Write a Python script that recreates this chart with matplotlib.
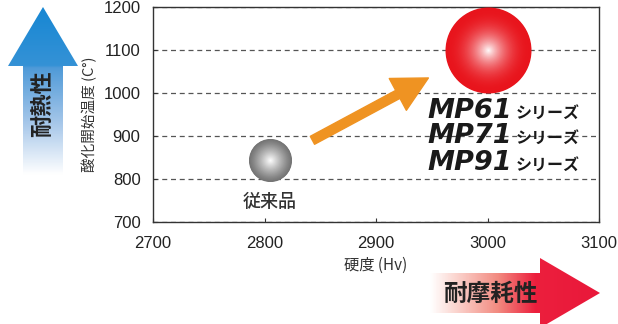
import numpy as np
import matplotlib
matplotlib.use("Agg")
import matplotlib.pyplot as plt
from matplotlib.colors import LinearSegmentedColormap, to_rgb
from matplotlib.patches import Polygon

plt.rcParams['font.family'] = ['Noto Sans CJK JP', 'DejaVu Sans']

# chart data
hardness = [2805, 3000]            # Hv
oxidation_temp = [845, 1100]       # deg C
sphere_edge = ['#747474', '#e8141c']
sphere_radius_px = [21.5, 43]
sphere_power = [1.2, 2.2]
old_label = '従来品'
series = ['MP61', 'MP71', 'MP91']
series_suffix = 'シリーズ'
series_y = [942, 884, 822]         # baselines of the series labels
arrow_start = (2843, 890)
arrow_end = (2947, 1035)
xticks = [2700, 2800, 2900, 3000, 3100]
yticks = [700, 800, 900, 1000, 1100, 1200]

fig = plt.figure(figsize=(6.18, 3.24), dpi=100)
ax = fig.add_axes([153/618, 1-222/324, 446/618, 215/324])
ax.set_xlim(2700, 3100)
ax.set_ylim(700, 1200)
ax.set_xticks(xticks)
ax.set_yticks(yticks)
ax.tick_params(direction='in', length=3, width=0.8, color='#333333',
               labelsize=12, labelcolor='#222222')
ax.tick_params(axis='x', pad=10)
ax.tick_params(axis='y', pad=9)
for lab in ax.get_xticklabels() + ax.get_yticklabels():
    lab.set_family(['Liberation Sans Narrow', 'Liberation Sans'])
for sp in ax.spines.values():
    sp.set_color('#333333')
    sp.set_linewidth(1)
ax.grid(axis='y', linestyle=(0, (4, 3)), color='#555555', linewidth=0.9)
ax.set_axisbelow(True)

ax.set_ylabel('酸化開始温度 (C°)', fontsize=10.5, color='#333333')
ax.yaxis.set_label_coords(-0.125, 0.5)
ax.set_xlabel('硬度 (Hv)', fontsize=11, color='#333333', va='top')
ax.xaxis.set_label_coords(0.5, -0.16)

# spheres: concentric discs from edge colour to white
n = 60
for x, y, c, r, p in zip(hardness, oxidation_temp, sphere_edge, sphere_radius_px, sphere_power):
    edge = np.array(to_rgb(c))
    for k in range(n):
        f = k / n
        rad = r * (1 - f) * 0.72
        w = f ** p
        col = edge * (1 - w) + np.ones(3) * w
        ax.scatter([x], [y], s=(2 * rad) ** 2, color=col, linewidths=0, zorder=3)

ax.text(hardness[0], 746, old_label, ha='center', va='center',
        fontsize=13, fontweight='medium', color='#333333', zorder=4)

ax.annotate('', xy=arrow_end, xytext=arrow_start,
            arrowprops=dict(arrowstyle='simple,head_length=2.5,head_width=2.6,tail_width=0.65',
                            color='#ef9322', shrinkA=0, shrinkB=0), zorder=4)

for name, yb in zip(series, series_y):
    ax.text(2946, yb, name, ha='left', va='baseline', fontsize=19.5,
            fontweight='heavy', fontstyle='italic', family='DejaVu Sans',
            color='#1a1a1a', zorder=4)
    ax.text(3025, yb, series_suffix, ha='left', va='baseline', fontsize=11.5,
            fontweight='bold', color='#1a1a1a', zorder=4)

# overlay in pixel coordinates for the decorative arrows
ov = fig.add_axes([0, 0, 1, 1], zorder=5)
ov.set_xlim(0, 618)
ov.set_ylim(324, 0)
ov.axis('off')
ov.patch.set_visible(False)

blue = LinearSegmentedColormap.from_list('blue', [
    (0.0, '#1787d3'), (0.35, '#3592d6'), (0.36, '#4f9ad8'),
    (0.7, '#a8c8ea'), (1.0, '#ffffff')])
grad = blue(np.linspace(0, 1, 200))[:, None, :]
up = Polygon([(43, 7), (78, 66), (63, 66), (63, 175), (23, 175), (23, 66), (8, 66)],
             closed=True, facecolor='none', edgecolor='none')
ov.add_patch(up)
im = ov.imshow(grad, extent=(8, 78, 175, 7), aspect='auto', interpolation='bilinear')
im.set_clip_path(up)
ov.text(43, 104, '耐熱性', rotation=90, ha='center', va='center', fontsize=16,
        fontweight='bold', color='#222222')

red = LinearSegmentedColormap.from_list('red', [
    (0.0, '#ffffff'), (0.15, '#fbd5cf'), (0.4, '#f28a80'),
    (0.62, '#ec1f3d'), (1.0, '#e9183a')])
grad2 = red(np.linspace(0, 1, 200))[None, :, :]
right = Polygon([(430, 273), (540, 273), (540, 258), (600, 293), (540, 328),
                 (540, 313), (430, 313)], closed=True, facecolor='none', edgecolor='none')
ov.add_patch(right)
im2 = ov.imshow(grad2, extent=(430, 600, 328, 258), aspect='auto', interpolation='bilinear')
im2.set_clip_path(right)
ov.set_xlim(0, 618)
ov.set_ylim(324, 0)
ov.text(490, 294, '耐摩耗性', ha='center', va='center', fontsize=17,
        fontweight='bold', color='#222222')

fig.savefig('out.png', dpi=100)
